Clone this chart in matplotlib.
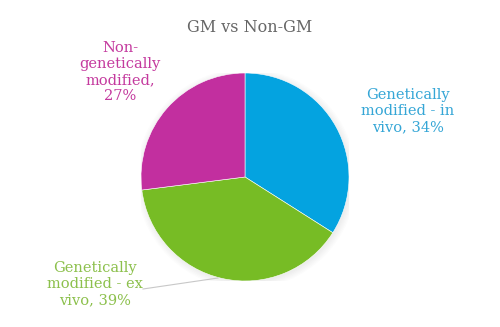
import matplotlib
matplotlib.use('Agg')
import matplotlib.pyplot as plt
from matplotlib.patches import Circle

labels = ["Genetically\nmodified - in\nvivo, 34%",
          "Genetically\nmodified - ex\nvivo, 39%",
          "Non-\ngenetically\nmodified,\n27%"]
shares = [34, 39, 27]
colors = ['#04a3e0', '#77bc25', '#c22f9f']
text_colors = ['#35a6d6', '#8cc04c', '#c43a9e']

plt.rcParams['font.family'] = ['DejaVu Serif']

W, H = 500, 327
fig = plt.figure(figsize=(W / 100, H / 100), dpi=100)
cx, cy, r = 245, 177, 104
ax = fig.add_axes([(cx - r) / W, 1 - (cy + r) / H, 2 * r / W, 2 * r / H])

# soft shadow under the pie
for i in range(6):
    ax.add_patch(Circle((0.012, -0.015), 1.0 + 0.012 * i, color='black',
                        alpha=0.012, lw=0, zorder=0))

ax.pie(shares, colors=colors, startangle=90, counterclock=False, radius=1,
       wedgeprops=dict(edgecolor='white', linewidth=0.4))
ax.set_xlim(-1, 1)
ax.set_ylim(-1, 1)
ax.set_aspect('equal')
ax.axis('off')

fig.text(250 / W, 1 - 27 / H, "GM vs Non-GM", ha='center', va='center',
         fontsize=11.5, color='#666666')

pos = [(408, 111), (95, 284), (120, 72)]
for lab, (x, y), c in zip(labels, pos, text_colors):
    fig.text(x / W, 1 - y / H, lab, ha='center', va='center', fontsize=10.5,
             color=c, linespacing=1.2)

# leader line for the ex vivo label
fig.add_artist(plt.Line2D([143 / W, 218 / W], [1 - 289 / H, 1 - 278 / H],
                          color='#c8c8c8', lw=0.8))

fig.savefig("out.png", dpi=100)
